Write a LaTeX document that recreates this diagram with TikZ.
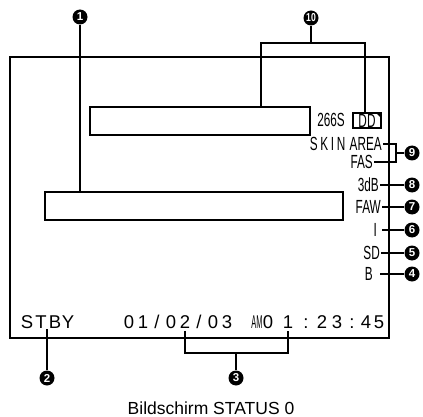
\documentclass[tikz,border=0pt]{standalone}
\usepackage{fontspec}
\setmainfont{Liberation Sans}
\newfontfamily\scrfont[FakeStretch=0.62]{Liberation Sans}
\newfontfamily\scrwide[FakeStretch=0.62,LetterSpace=14]{Liberation Sans}
\newfontfamily\numfont{Liberation Sans}
\usepackage{graphicx}
\usetikzlibrary{positioning,calc}

\begin{document}
\begin{tikzpicture}[
    x=1pt, y=-1pt,
    frame/.style={draw, line width=2.8pt},
    bar/.style={draw, line width=1.3pt, minimum height=28pt, inner sep=0pt},
    lead/.style={line width=1.6pt},
    callout/.style={circle, fill=black, text=white, inner sep=0pt, minimum size=15pt, font=\numfont\bfseries\fontsize{11.5}{11.5}\selectfont},
    side/.style={inner sep=1pt, font=\scrfont\fontsize{19}{19}\selectfont, text height=13.6pt, text depth=0pt},
    low/.style={inner sep=0pt, font=\fontsize{18.5}{18.5}\selectfont, text height=13.3pt, text depth=0pt},
  ]
  \useasboundingbox (0,0) rectangle (423,417);

  % Screen
  \draw[frame] (10,57) rectangle (389,338);
  \node[bar, minimum width=220pt] (bar10) at (200,121) {};
  \node[bar, minimum width=298pt] (bar1) at (194,206) {};

  % Status column
  \node[side, anchor=east] (rate) at (346,120) {266S};
  \node[side, draw, line width=1.2pt, minimum width=28pt, minimum height=15pt, inner sep=0pt] (dd) at (367,120.5) {DD};
  \fill (dd.north east) -- ++(-6,0) -- ++(6,6) -- cycle;
  \node[side, anchor=east] (area) at (383,144) {AREA};
  \node[side, font=\scrwide\fontsize{19}{19}\selectfont, left=2pt of area] (skin) {SKIN};
  \node[side, anchor=east] (fas) at (374,162) {FAS};
  \node[side, anchor=east] (gain) at (380,185) {3dB};
  \node[side, anchor=east] (faw) at (382,207) {FAW};
  \node[side, anchor=east] (iris) at (378,230) {I};
  \node[side, anchor=east] (sd) at (381,253) {SD};
  \node[side, anchor=east] (bal) at (374,274) {B};

  % Bottom line
  \foreach \c/\x [count=\i] in {S/27,T/41,B/55,Y/68}
    \node[low] (st\i) at (\x,322) {\c};
  \foreach \c/\x [count=\i] in {0/129,1/143,\slash/157,0/171,2/185,\slash/199,0/213,3/227}
    \node[low] (dt\i) at (\x,322) {\c};
  \node[low] (am) at (257,322) {\scalebox{0.4}[1]{AM}};
  \foreach \c/\x [count=\i] in {0/268,1/288,:/306,2/322,3/337,:/352,4/366,5/379}
    \node[low] (tm\i) at (\x,322) {\c};

  % Callouts
  \node[callout] (c1) at (80,17) {1};
  \node[callout] (c2) at (47,378) {2};
  \node[callout] (c3) at (236,378) {3};
  \node[callout] (c4) at (412,274) {4};
  \node[callout] (c5) at (412,253) {5};
  \node[callout] (c6) at (412,230) {6};
  \node[callout] (c7) at (412,207) {7};
  \node[callout] (c8) at (412,185) {8};
  \node[callout] (c9) at (412,153) {9};
  \node[callout] (c10) at (311,18) {\scalebox{0.75}[1]{10}};

  % Leaders
  \draw[lead] (c1) -- (c1 |- bar1.north);
  \coordinate (j10l) at (261,43);
  \coordinate (j10r) at (365,43);
  \draw[lead] (c10) -- (c10 |- j10l);
  \draw[lead] (j10l |- bar10.north) -- (j10l) -- (j10r) -- (j10r |- dd.north);
  \draw[lead] (c2) -- (c2 |- st2.south);
  \coordinate (j3) at (236,353);
  \draw[lead] ([yshift=-2pt]dt5.south) |- (j3) -| ([yshift=-2pt]tm2.south);
  \draw[lead] (j3) -- (c3);
  \coordinate (j9) at (396,153);
  \draw[lead] (area.east) -| (j9) -- (c9);
  \draw[lead] (fas.east) -| (j9);
  \draw[lead] (gain.east) -- (c8);
  \draw[lead] (faw.east) -- (c7);
  \draw[lead] ([xshift=4pt]iris.east) -- (c6);
  \draw[lead] (sd.east) -- (c5);
  \draw[lead] ([xshift=6pt]bal.east) -- (c4);

  % Caption
  \node[inner sep=0pt, font=\fontsize{17.5}{17.5}\selectfont] (caption) at (211,408) {Bildschirm STATUS 0};
\end{tikzpicture}
\end{document}
